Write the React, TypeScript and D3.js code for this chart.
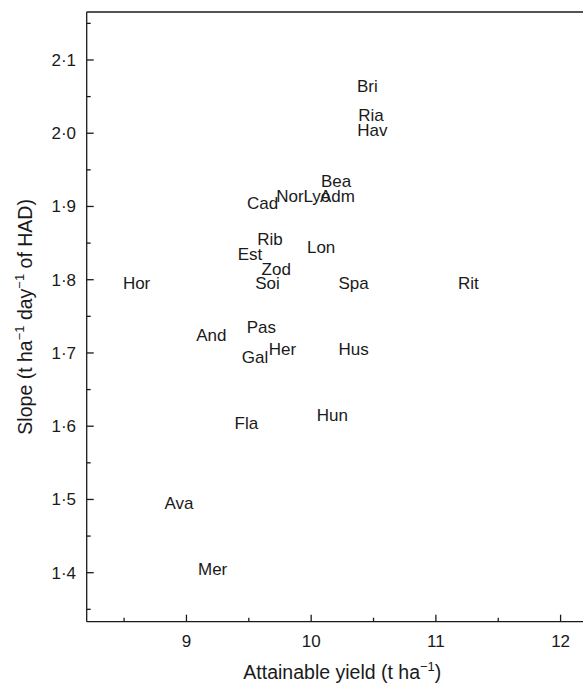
import React from "react";
import * as d3 from "d3";

const cultivars = ["Bri","Ria","Hav","Bea","Nor","Lyo","Adm","Cad","Rib","Lon","Est","Zod","Hor","Soi","Spa","Rit","And","Pas","Gal","Her","Hus","Hun","Fla","Ava","Mer"];
const attainableYield = [10.45,10.48,10.49,10.20,9.83,10.045,10.21,9.61,9.67,10.08,9.51,9.72,8.60,9.65,10.34,11.26,9.20,9.60,9.55,9.77,10.34,10.17,9.48,8.94,9.21];
const slope = [2.07,2.03,2.01,1.94,1.92,1.92,1.92,1.91,1.86,1.85,1.84,1.82,1.80,1.80,1.80,1.80,1.73,1.74,1.70,1.71,1.71,1.62,1.61,1.50,1.41];

const xMajorTicks = [9, 10, 11, 12];
const xMinorTicks = [8.5, 9.5, 10.5, 11.5];
const yMajorTicks = [1.4, 1.5, 1.6, 1.7, 1.8, 1.9, 2.0, 2.1];
const yMinorTicks = [1.35, 1.45, 1.55, 1.65, 1.75, 1.85, 1.95, 2.05, 2.15];

const W = 583, H = 683;
const left = 86.7, right = 598, top = 12, bottom = 621.7;
const FONT = "'Liberation Sans', Arial, Helvetica, sans-serif";
const INK = "#1a1a1a";

export default function App() {
  const x = d3.scaleLinear().domain([8.2, 12.3]).range([left, right]);
  const y = d3.scaleLinear().domain([1.3331, 2.1655]).range([bottom, top]);
  const fmt = (v: number) => d3.format(".1f")(v).replace(".", "\u00B7");

  return (
    <svg width={W} height={H} style={{ position: "absolute", left: 0, top: 0, background: "#fff" }} fontFamily={FONT}>
      {/* frame */}
      <line x1={left} x2={W + 20} y1={top} y2={top} stroke={INK} strokeWidth={1.3} />
      <line x1={left} x2={left} y1={top} y2={bottom} stroke={INK} strokeWidth={1.3} />
      <line x1={left} x2={W + 20} y1={bottom} y2={bottom} stroke={INK} strokeWidth={1.3} />

      {/* y ticks */}
      {yMajorTicks.map((t) => (
        <g key={"ym" + t}>
          <line x1={left} x2={left + 7} y1={y(t)} y2={y(t)} stroke={INK} strokeWidth={1.3} />
          <text x={76} y={y(t) + 6} textAnchor="end" fontSize={17} fill={INK}>{fmt(t)}</text>
        </g>
      ))}
      {yMinorTicks.map((t) => (
        <line key={"yn" + t} x1={left} x2={left + 4} y1={y(t)} y2={y(t)} stroke={INK} strokeWidth={1.3} />
      ))}

      {/* x ticks */}
      {xMajorTicks.map((t) => (
        <g key={"xm" + t}>
          <line x1={x(t)} x2={x(t)} y1={bottom} y2={bottom - 7} stroke={INK} strokeWidth={1.3} />
          <text x={x(t)} y={646.5} textAnchor="middle" fontSize={17} fill={INK}>{t}</text>
        </g>
      ))}
      {xMinorTicks.map((t) => (
        <line key={"xn" + t} x1={x(t)} x2={x(t)} y1={bottom} y2={bottom - 4} stroke={INK} strokeWidth={1.3} />
      ))}

      {/* labels */}
      {cultivars.map((c, i) => (
        <text key={c} x={x(attainableYield[i])} y={y(slope[i]) + 9.7} textAnchor="middle" fontSize={17} fill={INK}>{c}</text>
      ))}

      {/* axis titles */}
      <text x={(left + right) / 2} y={679} textAnchor="middle" fontSize={19.5} fill={INK}>
        Attainable yield (t ha
        <tspan fontSize={13} dy={-8}>{"\u22121"}</tspan>
        <tspan dy={8}>)</tspan>
      </text>
      <text transform={`translate(32, ${(top + bottom) / 2}) rotate(-90)`} textAnchor="middle" fontSize={19.5} fill={INK}>
        Slope (t ha
        <tspan fontSize={13} dy={-8}>{"\u22121"}</tspan>
        <tspan dy={8}> day</tspan>
        <tspan fontSize={13} dy={-8}>{"\u22121"}</tspan>
        <tspan dy={8}> of HAD)</tspan>
      </text>
    </svg>
  );
}
